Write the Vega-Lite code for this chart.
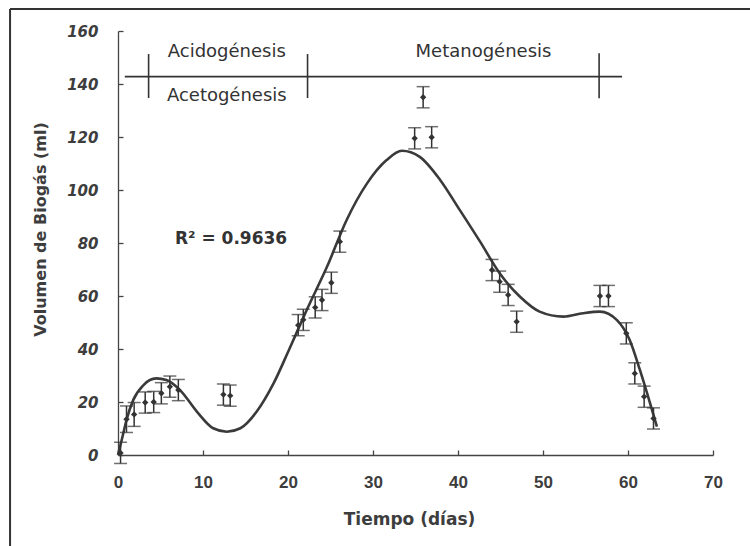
{
  "$schema": "https://vega.github.io/schema/vega-lite/v6.json",
  "width": 595,
  "height": 424,
  "autosize": {"type": "none"},
  "padding": {"left": 118, "top": 31, "right": 37, "bottom": 91},
  "background": "#ffffff",
  "config": {
    "view": {"stroke": null},
    "font": "DejaVu Sans",
    "axisY": {
      "grid": false,
      "domainColor": "#444444",
      "domainWidth": 1.3,
      "tickColor": "#444444",
      "tickWidth": 1.3,
      "tickSize": -5,
      "labelPadding": 25,
      "labelFont": "DejaVu Sans",
      "labelFontWeight": "bold",
      "labelFontStyle": "italic",
      "labelFontSize": 15,
      "labelColor": "#3d3d3d",
      "labelFlush": false,
      "labelOverlap": false,
      "titleFont": "DejaVu Sans",
      "titleFontWeight": "bold",
      "titleFontSize": 16,
      "titleColor": "#3d3d3d",
      "titleAngle": -90,
      "titleX": -73,
      "titleY": 198,
      "titleBaseline": "alphabetic",
      "titleAlign": "center",
      "titleAnchor": null
    },
    "axisX": {
      "grid": false,
      "domainColor": "#444444",
      "domainWidth": 1.3,
      "tickColor": "#444444",
      "tickWidth": 1.3,
      "tickSize": -5,
      "labelPadding": 24,
      "labelFont": "Liberation Sans",
      "labelFontWeight": "bold",
      "labelFontSize": 17,
      "labelColor": "#3d3d3d",
      "labelBaseline": "top",
      "labelFlush": false,
      "labelOverlap": false,
      "titleFont": "DejaVu Sans",
      "titleFontWeight": "bold",
      "titleFontSize": 17,
      "titleColor": "#3d3d3d",
      "titleX": 291,
      "titleY": 69,
      "titleBaseline": "alphabetic",
      "titleAlign": "center",
      "titleAnchor": null
    }
  },
  "datasets": {
    "points": [
      {"x": 0.3, "y": 0.8, "lo": -3.2, "hi": 4.8},
      {"x": 1.0, "y": 13.5, "lo": 8.5, "hi": 18.5},
      {"x": 1.9, "y": 15.3, "lo": 10.8, "hi": 19.8},
      {"x": 3.2, "y": 19.8, "lo": 15.8, "hi": 23.8},
      {"x": 4.2, "y": 20.0, "lo": 16.0, "hi": 24.0},
      {"x": 5.1, "y": 23.3, "lo": 19.3, "hi": 27.3},
      {"x": 6.1, "y": 25.8, "lo": 21.8, "hi": 29.8},
      {"x": 7.1, "y": 24.5, "lo": 20.5, "hi": 28.5},
      {"x": 12.4, "y": 22.8, "lo": 18.8, "hi": 26.8},
      {"x": 13.2, "y": 22.4, "lo": 18.4, "hi": 26.4},
      {"x": 21.2, "y": 49.0, "lo": 45.0, "hi": 53.0},
      {"x": 21.8, "y": 51.0, "lo": 47.0, "hi": 55.0},
      {"x": 23.2, "y": 55.7, "lo": 51.7, "hi": 59.7},
      {"x": 24.0, "y": 58.5, "lo": 54.5, "hi": 62.5},
      {"x": 25.1, "y": 65.0, "lo": 61.0, "hi": 69.0},
      {"x": 26.1, "y": 80.5, "lo": 76.5, "hi": 84.5},
      {"x": 34.9, "y": 119.5, "lo": 115.5, "hi": 123.5},
      {"x": 35.9, "y": 135.0, "lo": 131.0, "hi": 139.0},
      {"x": 36.9, "y": 119.9, "lo": 115.9, "hi": 123.9},
      {"x": 44.0, "y": 69.8, "lo": 65.8, "hi": 73.8},
      {"x": 44.9, "y": 65.4, "lo": 61.4, "hi": 69.4},
      {"x": 45.9, "y": 60.4, "lo": 56.4, "hi": 64.4},
      {"x": 46.9, "y": 50.3, "lo": 46.3, "hi": 54.3},
      {"x": 56.7, "y": 60.0, "lo": 56.0, "hi": 64.0},
      {"x": 57.7, "y": 60.0, "lo": 56.0, "hi": 64.0},
      {"x": 59.8, "y": 45.9, "lo": 41.9, "hi": 49.9},
      {"x": 60.8, "y": 30.8, "lo": 26.8, "hi": 34.8},
      {"x": 61.9, "y": 22.0, "lo": 18.0, "hi": 26.0},
      {"x": 63.0, "y": 13.8, "lo": 9.8, "hi": 17.8}
    ],
    "curve": [
      {"x": 0, "y": 0},
      {"x": 0.5, "y": 6.5},
      {"x": 1.0, "y": 13.2},
      {"x": 1.8, "y": 20.8},
      {"x": 3.0, "y": 26.4},
      {"x": 4.5, "y": 28.9},
      {"x": 5.7, "y": 28.3},
      {"x": 7.3, "y": 24.5},
      {"x": 9.3, "y": 16.3},
      {"x": 11.2, "y": 10.1},
      {"x": 12.8, "y": 8.8},
      {"x": 14.4, "y": 10.1},
      {"x": 16.3, "y": 16.3},
      {"x": 18.3, "y": 27.0},
      {"x": 20.2, "y": 40.3},
      {"x": 22.2, "y": 54.7},
      {"x": 24.6, "y": 71.1},
      {"x": 26.9, "y": 88.7},
      {"x": 29.3, "y": 102.5},
      {"x": 31.6, "y": 111.3},
      {"x": 33.4, "y": 114.8},
      {"x": 35.5, "y": 112.5},
      {"x": 37.9, "y": 103.8},
      {"x": 40.2, "y": 92.5},
      {"x": 42.6, "y": 80.5},
      {"x": 44.9, "y": 68.6},
      {"x": 47.3, "y": 59.7},
      {"x": 49.6, "y": 54.1},
      {"x": 52.4, "y": 52.2},
      {"x": 54.7, "y": 53.5},
      {"x": 56.7, "y": 54.1},
      {"x": 58.7, "y": 50.9},
      {"x": 60.2, "y": 43.4},
      {"x": 61.4, "y": 32.1},
      {"x": 62.6, "y": 19.5},
      {"x": 63.4, "y": 10.7}
    ],
    "segments": [
      {"kind": "phase", "x": 0.8, "x2": 59.3, "y": 142.8, "y2": 142.8},
      {"kind": "phase", "x": 3.6, "x2": 3.6, "y": 134.7, "y2": 151.3},
      {"kind": "phase", "x": 22.3, "x2": 22.3, "y": 134.7, "y2": 151.3},
      {"kind": "phase", "x": 56.6, "x2": 56.6, "y": 134.6, "y2": 151.6},
      {"kind": "frame", "x": -12.7, "x2": 74.4, "y": 168.3, "y2": 168.3},
      {"kind": "frame", "x": -12.7, "x2": -12.7, "y": 168.3, "y2": -34.5}
    ],
    "phases": [
      {"x": 12.8, "y": 151.9, "label": "Acidogénesis"},
      {"x": 12.8, "y": 135.6, "label": "Acetogénesis"},
      {"x": 43.0, "y": 151.9, "label": "Metanogénesis"}
    ],
    "fit": [
      {"x": 6.7, "y": 81.5, "label": "R² = 0.9636"}
    ]
  },
  "encoding": {
    "x": {
      "field": "x",
      "type": "quantitative",
      "title": "Tiempo (días)",
      "scale": {"domain": [0, 70], "nice": false, "zero": false},
      "axis": {"values": [0, 10, 20, 30, 40, 50, 60, 70]}
    },
    "y": {
      "field": "y",
      "type": "quantitative",
      "title": "Volumen de Biogás (ml)",
      "scale": {"domain": [0, 160], "nice": false, "zero": false},
      "axis": {"values": [0, 20, 40, 60, 80, 100, 120, 140, 160]}
    }
  },
  "layer": [
    {
      "data": {"name": "segments"},
      "transform": [{"filter": "datum.kind === 'frame'"}],
      "mark": {"type": "rule", "color": "#333333", "strokeWidth": 2, "clip": false},
      "encoding": {
        "x2": {"field": "x2"},
        "y2": {"field": "y2"}
      }
    },
    {
      "data": {"name": "segments"},
      "transform": [{"filter": "datum.kind === 'phase'"}],
      "mark": {"type": "rule", "color": "#333333", "strokeWidth": 1.6, "clip": false},
      "encoding": {
        "x2": {"field": "x2"},
        "y2": {"field": "y2"}
      }
    },
    {
      "data": {"name": "phases"},
      "mark": {"type": "text", "font": "DejaVu Sans", "fontSize": 18, "color": "#333333", "align": "center", "baseline": "middle"},
      "encoding": {"text": {"field": "label"}}
    },
    {
      "data": {"name": "fit"},
      "mark": {"type": "text", "font": "DejaVu Sans", "fontWeight": "bold", "fontSize": 17, "color": "#333333", "align": "left", "baseline": "middle"},
      "encoding": {"text": {"field": "label"}}
    },
    {
      "data": {"name": "curve"},
      "mark": {"type": "line", "color": "#3a3a3a", "strokeWidth": 2.6, "interpolate": "monotone", "clip": false},
      "encoding": {}
    },
    {
      "data": {"name": "points"},
      "mark": {"type": "rule", "color": "#333333", "strokeWidth": 1.5, "clip": false},
      "encoding": {
        "y": {"field": "lo", "type": "quantitative", "title": "Volumen de Biogás (ml)"},
        "y2": {"field": "hi"}
      }
    },
    {
      "data": {"name": "points"},
      "mark": {"type": "tick", "orient": "horizontal", "color": "#333333", "size": 13, "thickness": 1.5, "clip": false},
      "encoding": {
        "y": {"field": "lo", "type": "quantitative", "title": "Volumen de Biogás (ml)"}
      }
    },
    {
      "data": {"name": "points"},
      "mark": {"type": "tick", "orient": "horizontal", "color": "#333333", "size": 13, "thickness": 1.5, "clip": false},
      "encoding": {
        "y": {"field": "hi", "type": "quantitative", "title": "Volumen de Biogás (ml)"}
      }
    },
    {
      "data": {"name": "points"},
      "mark": {"type": "point", "shape": "diamond", "filled": true, "color": "#333333", "size": 40, "opacity": 1, "clip": false},
      "encoding": {}
    }
  ]
}
